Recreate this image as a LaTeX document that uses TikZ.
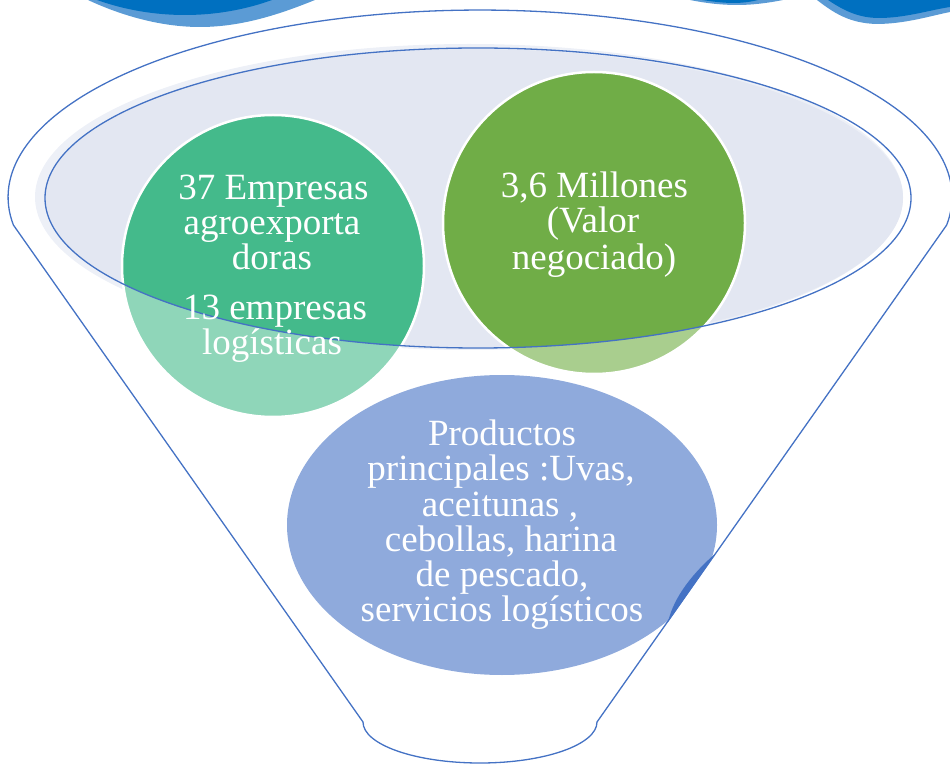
\documentclass[tikz,border=0pt]{standalone}
\usepackage{fontspec}
\setmainfont{Liberation Serif}
\definecolor{fblue}{HTML}{4472C4}
\definecolor{mouthD}{HTML}{E3E7F2}
\definecolor{mouthL}{HTML}{EDF0F7}
\definecolor{tealD}{HTML}{44BA8B}
\definecolor{tealL}{HTML}{8FD6B9}
\definecolor{grnD}{HTML}{70AD47}
\definecolor{grnL}{HTML}{A9CE8E}
\definecolor{prodB}{HTML}{8FAADC}
\definecolor{topL}{HTML}{5B9BD5}
\definecolor{topD}{HTML}{0070C0}
\newcommand\lblfont{\fontsize{37}{35}\selectfont}
\newcommand\funnelpath{(946.7,539) arc[start angle=-8.6, end angle=188.6, x radius=472, y radius=187] -- (363,42) arc[start angle=180, end angle=360, x radius=117, y radius=41] -- cycle}
\begin{document}
\begin{tikzpicture}[x=1pt,y=1pt,
  funnelline/.style={draw=fblue,line width=1.3pt},
  lbl/.style={text=white,font=\lblfont,anchor=base,inner sep=0pt},
  ring/.style={draw=white,line width=2.5pt}]
\useasboundingbox (0,0) rectangle (950,764);
% top blobs
\fill[topL] (88,764) .. controls (120,749) and (160,737) .. (200,737) .. controls (245,737) and (285,752) .. (315,764) -- cycle;
\fill[topD] (97,764) .. controls (125,754) and (155,749) .. (185,749) .. controls (220,749) and (250,756) .. (272,764) -- cycle;
\fill[topL] (690,764) .. controls (710,760) and (725,759) .. (738,759) .. controls (752,759) and (768,761) .. (783,764) -- cycle;
\fill[topD] (702,764) .. controls (715,762) and (726,761) .. (733,761) .. controls (742,761) and (750,762) .. (758,764) -- cycle;
\fill[topL] (817,764) .. controls (835,750) and (850,741) .. (876,740) .. controls (905,740) and (930,748) .. (950,752) -- (950,764) -- cycle;
\fill[topD] (828,764) .. controls (843,754) and (858,746) .. (879,746) .. controls (905,746) and (930,754) .. (950,757) -- (950,764) -- cycle;
% funnel mouth fill
\fill[mouthL] (469,567) ellipse (434 and 153);
\fill[mouthD] (474,566) ellipse (429 and 149);
% teal circle
\fill[tealL] (273,498) circle (151);
\begin{scope}
  \clip (478,566) ellipse (433 and 150);
  \fill[tealD] (273,498) circle (151);
\end{scope}
\draw[ring] (273,498) circle (151);
% green circle
\fill[grnL] (594,541) circle (151);
\begin{scope}
  \clip (478,566) ellipse (433 and 150);
  \fill[grnD] (594,541) circle (151);
\end{scope}
\draw[ring] (594,541) circle (151);
% products ellipse
\begin{scope}
  \clip \funnelpath;
  \fill[prodB] (502,239) ellipse (215 and 150);
\end{scope}
\fill[fblue] (716,211) -- (668,142) .. controls (674,168) and (694,192) .. (716,211) -- cycle;
% mouth outline
\draw[funnelline] (478,566) ellipse (433 and 150);
% funnel outline
\draw[funnelline] \funnelpath;
% texts
\node[lbl] (t1) at (273.5,564) {37 Empresas};
\node[lbl] (t2) at (272,529) {agroexporta};
\node[lbl] (t3) at (272,494) {doras};
\node[lbl] (t4) at (275,444) {13 empresas};
\node[lbl] (t5) at (272,409) {logísticas};
\node[lbl] (t6) at (594.5,566) {3,6 Millones};
\node[lbl] (t7) at (593,531) {(Valor};
\node[lbl] (t8) at (594,494) {negociado)};
\node[lbl] (t9) at (502,319) {Productos};
\node[lbl] (t10) at (501,284) {principales :Uvas,};
\node[lbl] (t11) at (500,248) {aceitunas ,};
\node[lbl] (t12) at (501,213) {cebollas, harina};
\node[lbl] (t13) at (502,178) {de pescado,};
\node[lbl] (t14) at (502,143) {servicios logísticos};
\end{tikzpicture}
\end{document}
